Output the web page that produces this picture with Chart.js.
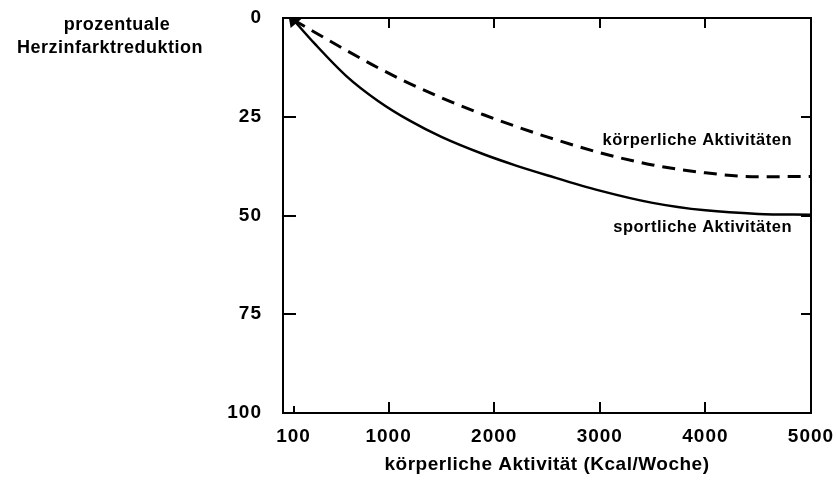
<!DOCTYPE html>
<html>
<head>
<meta charset="utf-8">
<script src="https://cdn.jsdelivr.net/npm/chart.js@4/dist/chart.umd.min.js"></script>
<style>
  html, body { margin: 0; padding: 0; background: #fff; }
  #wrap { width: 836px; height: 483px; }
</style>
</head>
<body>
<div id="wrap"><canvas id="herzChart"></canvas></div>
<script>
// Werte
const kcal = [100, 300, 600, 900, 1200, 1500, 1900, 2200, 2500, 3000, 3500, 4000, 4500, 5000];
const sportlich = [0.5, 6.5, 14.7, 21.0, 26.0, 30.1, 34.5, 37.3, 39.8, 43.7, 46.8, 48.7, 49.6, 49.8];
const koerperlich = [0.5, 3.6, 8.2, 12.6, 16.6, 20.2, 24.5, 27.4, 30.1, 34.1, 37.2, 39.2, 40.2, 40.1];
const xTicks = [100, 1000, 2000, 3000, 4000, 5000];
const yTicks = [0, 25, 50, 75, 100];

const FONT = '"Liberation Sans", Arial, sans-serif';

const toPoints = (ys) => kcal.map((x, i) => ({ x, y: ys[i] }));

const spacing = {
    id: 'spacing',
    beforeLayout(chart) { chart.ctx.letterSpacing = '1px'; },
    beforeDraw(chart) { chart.ctx.letterSpacing = '1px'; },
};

const frame = {
    id: 'frame',
    afterDraw(chart) {
        const { ctx, chartArea: a, scales } = chart;
        const xs = scales.x, ys = scales.y;
        ctx.save();
        ctx.strokeStyle = '#000';
        ctx.lineWidth = 2;
        ctx.strokeRect(a.left, a.top, a.right - a.left, a.bottom - a.top);

        ctx.beginPath();
        xTicks.slice(0, -1).forEach(v => {
            const px = Math.round(xs.getPixelForValue(v));
            const len = v === 100 ? 7 : 11;
            ctx.moveTo(px, a.bottom);
            ctx.lineTo(px, a.bottom - len);
            if (v !== 100) {
                ctx.moveTo(px, a.top);
                ctx.lineTo(px, a.top + 10);
            }
        });
        yTicks.slice(1, -1).forEach(v => {
            const py = Math.round(ys.getPixelForValue(v));
            ctx.moveTo(a.left, py);
            ctx.lineTo(a.left + 13, py);
            ctx.moveTo(a.right, py);
            ctx.lineTo(a.right - 10, py);
        });
        ctx.stroke();

        ctx.fillStyle = '#000';
        ctx.letterSpacing = '0.5px';
        ctx.textBaseline = 'middle';

        ctx.font = 'bold 18px ' + FONT;
        ctx.textAlign = 'center';
        ctx.fillText('prozentuale', 117, 25);
        ctx.fillText('Herzinfarktreduktion', 110, 48);

        ctx.font = 'bold 16.5px ' + FONT;
        ctx.textAlign = 'right';
        ctx.fillText('körperliche Aktivitäten', a.right - 19, ys.getPixelForValue(31));
        ctx.fillText('sportliche Aktivitäten', a.right - 19, ys.getPixelForValue(53));

        ctx.font = 'bold 19px ' + FONT;
        ctx.textAlign = 'center';
        ctx.fillText('körperliche Aktivität (Kcal/Woche)', (a.left + a.right) / 2, 465);
        ctx.restore();
    },
};

new Chart(document.getElementById('herzChart'), {
    type: 'line',
    data: {
        datasets: [
            {
                label: 'sportliche Aktivitäten',
                data: toPoints(sportlich),
                borderColor: '#000',
                backgroundColor: '#000',
                borderWidth: 2.5,
                cubicInterpolationMode: 'monotone',
                pointRadius: kcal.map((_, i) => (i === 0 ? 6 : 0)),
                pointStyle: 'triangle',
                rotation: -40,
            },
            {
                label: 'körperliche Aktivitäten',
                data: toPoints(koerperlich),
                borderColor: '#000',
                borderWidth: 3,
                borderDash: [13, 8],
                cubicInterpolationMode: 'monotone',
                pointRadius: 0,
            },
        ],
    },
    options: {
        responsive: true,
        maintainAspectRatio: false,
        animation: false,
        layout: { padding: { top: 18, right: 25, left: 0, bottom: 0 } },
        plugins: {
            legend: { display: false },
            tooltip: { enabled: false },
        },
        scales: {
            x: {
                type: 'linear',
                min: 0,
                max: 5000,
                afterBuildTicks: s => { s.ticks = xTicks.map(value => ({ value })); },
                afterFit: s => {
                    s.height = 70;
                    s.paddingLeft = 0;
                    s.paddingRight = 0;
                },
                grid: { display: false, drawTicks: false },
                border: { display: false },
                ticks: {
                    color: '#000',
                    padding: 12,
                    maxRotation: 0,
                    autoSkip: false,
                    callback: v => String(v),
                    font: { family: FONT, size: 19, weight: 'bold' },
                },
            },
            y: {
                reverse: true,
                min: 0,
                max: 100,
                afterBuildTicks: s => { s.ticks = yTicks.map(value => ({ value })); },
                afterFit: s => {
                    s.width = 283;
                    s.paddingTop = 0;
                    s.paddingBottom = 0;
                },
                grid: { display: false, drawTicks: false },
                border: { display: false },
                ticks: {
                    color: '#000',
                    padding: 21,
                    font: { family: FONT, size: 19, weight: 'bold' },
                },
            },
        },
    },
    plugins: [spacing, frame],
});
</script>
</body>
</html>
